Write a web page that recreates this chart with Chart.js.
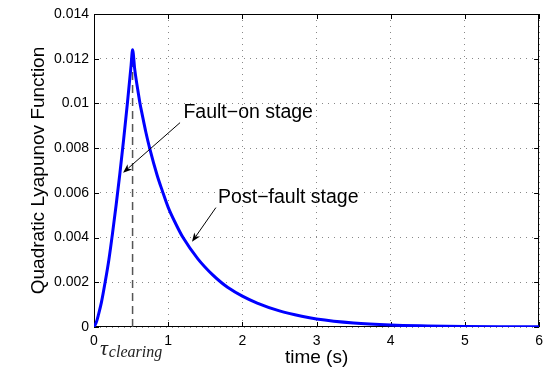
<!DOCTYPE html>
<html><head><meta charset="utf-8">
<script src="https://cdn.jsdelivr.net/npm/chart.js@4/dist/chart.umd.min.js"></script>
<style>html,body{margin:0;padding:0;background:#fff;} #wrap{width:549px;height:369px;}</style>
</head><body><div id="wrap"><canvas id="c" width="549" height="369"></canvas></div>
<script>
// ---- data ----
const timeValues = [0, 0.03, 0.06, 0.1, 0.15, 0.2, 0.25, 0.3, 0.35, 0.4, 0.45, 0.5, 0.52,
  0.55, 0.6, 0.62, 0.65, 0.7, 0.75, 0.85, 0.92, 1.0, 1.1, 1.2, 1.4, 1.6, 1.72, 1.8, 2.0, 2.2,
  2.5, 2.8, 3.0, 3.5, 4.0, 4.5, 5.0, 5.5, 6.0];
const lyapunovValues = [0, 0.0002, 0.00055, 0.0011, 0.0020, 0.0030, 0.0042, 0.0055, 0.0069, 0.0084, 0.0100, 0.0117, 0.0124,
  0.0115, 0.0104, 0.0100, 0.0095, 0.0087, 0.0080, 0.0068, 0.0061, 0.00535, 0.00463, 0.0040, 0.00305, 0.00233, 0.00198, 0.00178, 0.00138, 0.00107,
  0.00072, 0.00048, 0.00036, 0.00018, 0.00009, 0.00005, 0.000024, 0.000012, 0.000006];
const clearingTime = [0.52, 0.52];
const clearingLine = [0, 0.0124];
const xTickValues = [0, 1, 2, 3, 4, 5, 6];
const xTickLabels = ['0', '1', '2', '3', '4', '5', '6'];
const yTickValues = [0, 0.002, 0.004, 0.006, 0.008, 0.010, 0.012, 0.014];
const yTickLabels = ['0', '0.002', '0.004', '0.006', '0.008', '0.01', '0.012', '0.014'];
const xAxisLabel = 'time (s)';
const yAxisLabel = 'Quadratic Lyapunov Function';
const annotationTexts = ['Fault\u2212on stage', 'Post\u2212fault stage'];
const clearingSymbol = '\u03C4';
const clearingSubscript = 'clearing';

// ---- annotation placement (data coordinates) ----
const annotationLayout = [
  { textX: 1.205, textY: 0.00933, fromX: 1.16, fromY: 0.00914, toX: 0.392, toY: 0.0069 },
  { textX: 1.673, textY: 0.00553, fromX: 1.643, fromY: 0.00534, toX: 1.321, toY: 0.00381 }
];

const FONT = '"Liberation Sans", Arial, Helvetica, sans-serif';

function arrow(ctx, x1, y1, x2, y2) {
  ctx.save();
  ctx.strokeStyle = '#000'; ctx.fillStyle = '#000'; ctx.lineWidth = 1;
  const a = Math.atan2(y2 - y1, x2 - x1);
  const L = 9, W = 3.5;
  const bx = x2 - L * Math.cos(a), by = y2 - L * Math.sin(a);
  ctx.beginPath(); ctx.moveTo(x1, y1); ctx.lineTo(bx + 2 * Math.cos(a), by + 2 * Math.sin(a)); ctx.stroke();
  const nx = -Math.sin(a), ny = Math.cos(a);
  ctx.beginPath();
  ctx.moveTo(x2, y2);
  ctx.lineTo(bx + nx * W, by + ny * W);
  ctx.lineTo(bx + 2.5 * Math.cos(a), by + 2.5 * Math.sin(a));
  ctx.lineTo(bx - nx * W, by - ny * W);
  ctx.closePath(); ctx.fill();
  ctx.restore();
}

const axesPlugin = {
  id: 'axesBox',
  beforeDatasetsDraw(chart) {
    const { ctx, chartArea: ca, scales: { x, y } } = chart;
    ctx.save();
    ctx.strokeStyle = '#000'; ctx.lineWidth = 1;
    ctx.strokeRect(Math.round(ca.left) + 0.5, Math.round(ca.top) + 0.5,
      Math.round(ca.right - ca.left) - 1, Math.round(ca.bottom - ca.top) - 1);
    const T = 5;
    ctx.beginPath();
    x.ticks.forEach(t => {
      const px = Math.round(x.getPixelForValue(t.value)) + 0.5;
      ctx.moveTo(px, ca.bottom); ctx.lineTo(px, ca.bottom - T);
      ctx.moveTo(px, ca.top); ctx.lineTo(px, ca.top + T);
    });
    y.ticks.forEach(t => {
      const py = Math.round(y.getPixelForValue(t.value)) + 0.5;
      ctx.moveTo(ca.left, py); ctx.lineTo(ca.left + T, py);
      ctx.moveTo(ca.right, py); ctx.lineTo(ca.right - T, py);
    });
    ctx.stroke();
    ctx.restore();
  },
  afterDraw(chart) {
    const { ctx, scales: { x, y } } = chart;
    ctx.save();
    ctx.fillStyle = '#000';
    ctx.font = '19.5px ' + FONT;
    ctx.textBaseline = 'alphabetic';
    annotationLayout.forEach((a, i) => {
      ctx.fillText(annotationTexts[i], x.getPixelForValue(a.textX), y.getPixelForValue(a.textY));
      arrow(ctx, x.getPixelForValue(a.fromX), y.getPixelForValue(a.fromY),
        x.getPixelForValue(a.toX), y.getPixelForValue(a.toY));
    });
    // tau_clearing label under the clearing line
    const cx = x.getPixelForValue(clearingTime[0]);
    ctx.fillStyle = '#222';
    ctx.font = 'italic 22px "Liberation Serif", "DejaVu Serif", serif';
    const tw = ctx.measureText(clearingSymbol).width;
    ctx.font = 'italic 16px "Liberation Serif", "DejaVu Serif", serif';
    const sw = ctx.measureText(clearingSubscript).width;
    const startX = cx - (tw + sw) / 2 - 2;
    ctx.font = 'italic 22px "Liberation Serif", "DejaVu Serif", serif';
    ctx.fillText(clearingSymbol, startX, 355);
    ctx.font = 'italic 16px "Liberation Serif", "DejaVu Serif", serif';
    ctx.fillText(clearingSubscript, startX + tw + 1, 357);
    ctx.restore();
  }
};

new Chart(document.getElementById('c'), {
  type: 'line',
  data: {
    datasets: [
      {
        data: timeValues.map((t, i) => ({ x: t, y: lyapunovValues[i] })),
        borderColor: '#0000ff', borderWidth: 3, pointRadius: 0, fill: false,
        cubicInterpolationMode: 'monotone'
      },
      {
        data: clearingTime.map((t, i) => ({ x: t, y: clearingLine[i] })),
        borderColor: '#555', borderWidth: 1.5, borderDash: [8, 5], pointRadius: 0, fill: false
      }
    ]
  },
  options: {
    responsive: false, animation: false, devicePixelRatio: 1,
    layout: { padding: { top: 14, right: 7, left: 0, bottom: 0 } },
    plugins: { legend: { display: false }, tooltip: { enabled: false } },
    scales: {
      x: {
        type: 'linear', min: 0, max: 6,
        afterBuildTicks: s => { s.ticks = xTickValues.map(v => ({ value: v })); },
        afterFit: s => { s.height = 42; },
        ticks: { callback: (v, i) => xTickLabels[i], color: '#000', font: { family: FONT, size: 14 }, padding: 6, maxRotation: 0, autoSkip: false },
        grid: { color: '#888', lineWidth: 1, drawTicks: false },
        border: { display: false, dash: [1, 5] },
        title: { display: true, text: xAxisLabel, color: '#000', font: { family: FONT, size: 19 }, padding: { top: 0, bottom: 0 } }
      },
      y: {
        type: 'linear', min: 0, max: 0.014,
        afterBuildTicks: s => { s.ticks = yTickValues.map(v => ({ value: v })); },
        afterFit: s => { s.width = 94; },
        ticks: { callback: (v, i) => yTickLabels[i], color: '#000', font: { family: FONT, size: 14 }, padding: 5, autoSkip: false },
        grid: { color: '#888', lineWidth: 1, drawTicks: false },
        border: { display: false, dash: [1, 5] },
        title: { display: true, text: yAxisLabel, color: '#000', font: { family: FONT, size: 19 }, padding: { top: 27, bottom: 0 } }
      }
    }
  },
  plugins: [axesPlugin]
});
</script></body></html>
